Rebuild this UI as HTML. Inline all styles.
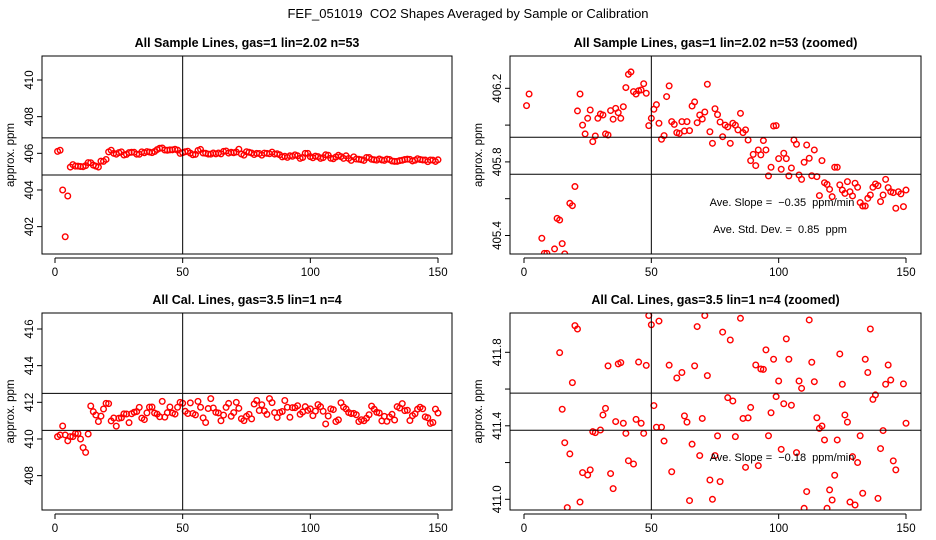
<!DOCTYPE html>
<html><head><meta charset="utf-8"><style>
html,body{margin:0;padding:0;background:#fff;width:936px;height:540px;overflow:hidden;}
svg{display:block;font-family:"Liberation Sans",sans-serif;overflow:hidden;}
text{white-space:pre;}
</style></head><body>
<svg id="c" width="936" height="540" viewBox="0 0 936 540">
<text x="468" y="18" text-anchor="middle" font-size="13">FEF_051019  CO2 Shapes Averaged by Sample or Calibration</text>
</svg>
<script>
const sampleValues = [
406.106,406.169,404.0,401.45,403.67,405.25,405.385,405.303,405.303,405.28,
405.27,405.327,405.493,405.484,405.356,405.3,405.25,405.575,405.562,405.666,
406.077,406.169,406.0,405.952,406.037,406.082,405.910,405.941,406.037,406.06,
406.055,405.952,405.946,406.079,406.032,406.091,406.068,406.037,406.1,406.204,
406.276,406.289,406.182,406.169,406.187,406.191,406.225,406.173,405.997,406.037,
406.086,406.111,406.01,405.923,405.943,406.155,406.213,406.019,406.004,405.959,
405.955,406.019,405.968,406.019,405.97,406.104,406.126,406.013,406.055,406.033,
406.071,406.222,405.964,405.901,406.089,406.057,406.017,405.937,406.0,405.99,
405.901,406.01,406.0,405.974,406.064,405.959,405.974,405.919,405.807,405.841,
405.78,405.865,405.838,405.916,405.865,405.724,405.771,405.995,405.997,405.818,
405.76,405.847,405.818,405.724,405.767,405.919,405.896,405.729,405.705,405.798,
405.892,405.82,405.725,405.865,405.72,405.617,405.807,405.687,405.678,405.651,
405.611,405.771,405.771,405.675,405.647,405.629,405.693,405.638,405.615,405.684,
405.662,405.579,405.56,405.56,405.602,405.62,405.662,405.68,405.671,405.584,
405.62,405.705,405.66,405.638,405.633,405.548,405.638,405.626,405.557,405.647];
const calValues = [
410.13,410.22,410.71,410.22,409.9,410.13,410.13,410.3,410.3,410.0,
409.53,409.27,410.27,411.798,411.49,411.308,410.955,411.247,411.635,411.945,
411.927,410.985,411.145,410.7,411.132,411.16,411.368,411.363,410.89,411.377,
411.459,411.495,411.726,411.14,411.058,411.423,411.737,411.744,411.414,411.359,
411.21,412.05,411.192,411.435,411.747,411.414,411.359,411.729,412.0,411.95,
411.51,411.392,411.97,411.392,411.317,412.05,411.73,411.15,410.9,411.66,
412.2,411.69,411.454,411.42,410.993,411.3,411.726,411.94,411.238,411.44,
412.0,411.673,411.105,411.0,411.238,411.345,411.096,411.91,412.1,411.553,
411.867,411.535,411.341,412.2,411.985,411.44,411.174,411.443,411.5,412.1,
411.731,411.183,411.709,411.707,411.813,411.346,411.471,411.762,411.559,411.644,
411.272,411.52,411.873,411.762,411.512,410.82,411.254,411.644,411.604,410.951,
411.042,411.976,411.746,411.64,411.444,411.386,411.399,411.323,410.951,411.051,
410.996,411.131,411.323,411.791,411.626,411.459,411.42,410.985,411.232,410.969,
411.2,411.346,411.033,411.762,411.69,411.927,411.544,411.568,411.005,411.276,
411.374,411.626,411.731,411.649,411.209,411.16,410.85,410.9,411.628,411.414];
const xTicks = [0,50,100,150];
const sampleRefLines = [406.84,404.82];
const sampleZoomRefLines = [405.934,405.733];
const calRefLines = [412.49,410.47];
const calZoomRefLines = [411.578,411.376];
const sampleTicks = [402,404,406,408,410];
const sampleZoomTicks = [405.4,405.6,405.8,406.0,406.2];
const sampleZoomLabels = ["405.4","","405.8","","406.2"];
const calTicks = [408,410,412,414,416];
const calZoomTicks = [411.0,411.2,411.4,411.6,411.8];
const calZoomLabels = ["411.0","","411.4","","411.8"];

const svg = document.getElementById('c');
const NS = 'http://www.w3.org/2000/svg';
function mk(tag, attrs, parent){
  const e = document.createElementNS(NS, tag);
  for (const k in attrs) e.setAttribute(k, attrs[k]);
  (parent||svg).appendChild(e);
  return e;
}
const panels = [
 {id:'sample', title:'All Sample Lines, gas=1 lin=2.02 n=53', L:42,R:452,T:56,B:254, x0:55,x1:438, yRef:410,yRefPx:80,ppp:18.33, data:sampleValues, lines:sampleRefLines, ticks:sampleTicks, labels:sampleTicks.map(String)},
 {id:'sample-zoom', title:'All Sample Lines, gas=1 lin=2.02 n=53 (zoomed)', L:510,R:921,T:56,B:254, x0:524,x1:906, yRef:406.2,yRefPx:88.3,ppp:184, data:sampleValues, lines:sampleZoomRefLines, ticks:sampleZoomTicks, labels:sampleZoomLabels,
  notes:[['Ave. Slope =  \u22120.35  ppm/min',782,206],['Ave. Std. Dev. =  0.85  ppm',780,233]]},
 {id:'cal', title:'All Cal. Lines, gas=3.5 lin=1 n=4', L:42,R:452,T:313,B:510, x0:55,x1:438, yRef:416,yRefPx:329,ppp:18.33, data:calValues, lines:calRefLines, ticks:calTicks, labels:calTicks.map(String)},
 {id:'cal-zoom', title:'All Cal. Lines, gas=3.5 lin=1 n=4 (zoomed)', L:510,R:921,T:313,B:510, x0:524,x1:906, yRef:411.8,yRefPx:352.3,ppp:183.75, data:calValues, lines:calZoomRefLines, ticks:calZoomTicks, labels:calZoomLabels,
  notes:[['Ave. Slope =  \u22120.18  ppm/min',782,461]]}
];
panels.forEach((p,pi)=>{
  const g = mk('g',{});
  
  
  const xs = v => p.x0 + (v)*(p.x1-p.x0)/150;
  const ys = v => p.yRefPx - (v-p.yRef)*p.ppp;
  const cid = 'clip'+pi;
  const cp = mk('clipPath',{id:cid},g);
  mk('rect',{x:p.L,y:p.T,width:p.R-p.L,height:p.B-p.T},cp);
  const t = mk('text',{x:(p.L+p.R)/2,y:p.T-9,'text-anchor':'middle','font-size':12.5,'font-weight':'bold'},g);
  t.textContent = p.title;
  
  
  const pts = mk('g',{'clip-path':'url(#'+cid+')'},g);
  
  
  p.data.forEach((v,i)=>{
    const cy = ys(v);
    if (cy < p.T-3 || cy > p.B+3) return;
    const c = mk('circle',{cx:xs(i+1),cy:cy,r:2.8,fill:'none',stroke:'#ff0000','stroke-width':1.4},pts);
    
    
  });
  p.lines.forEach(v=>{
    const l = mk('line',{x1:p.L,x2:p.R,y1:ys(v),y2:ys(v),stroke:'#000','stroke-width':1},g);
    
    
  });
  const vl = mk('line',{x1:xs(50),x2:xs(50),y1:p.T,y2:p.B,stroke:'#000','stroke-width':1},g);
  
  
  const box = mk('rect',{x:p.L,y:p.T,width:p.R-p.L,height:p.B-p.T,fill:'none',stroke:'#000','stroke-width':1},g);
  
  
  const xa = mk('g',{},g);
  
  
  mk('line',{x1:xs(xTicks[0]),x2:xs(xTicks[xTicks.length-1]),y1:p.B+4,y2:p.B+4,stroke:'#000'},xa);
  xTicks.forEach(v=>{
    mk('line',{x1:xs(v),x2:xs(v),y1:p.B+4,y2:p.B+9,stroke:'#000'},xa);
    const tl = mk('text',{x:xs(v),y:p.B+22,'text-anchor':'middle','font-size':11.5},xa);
    tl.textContent = v;
    
    
  });
  const ya = mk('g',{},g);
  
  
  p.ticks.forEach((v,i)=>{
    mk('line',{x1:p.L-5,x2:p.L,y1:ys(v),y2:ys(v),stroke:'#000'},ya);
    if(p.labels[i]){
      const tl = mk('text',{x:0,y:0,'text-anchor':'middle','font-size':11.5,transform:'translate('+(p.L-9)+','+ys(v)+') rotate(-90)'},ya);
      tl.textContent = p.labels[i];
      
      
    }
  });
  const yt = mk('text',{x:0,y:0,'text-anchor':'middle','font-size':11.5,transform:'translate('+(p.L-28)+','+((p.T+p.B)/2)+') rotate(-90)'},g);
  yt.textContent = 'approx. ppm';
  
  
  (p.notes||[]).forEach(n=>{
    const a = mk('text',{x:n[1],y:n[2],'text-anchor':'middle','font-size':11},g);
    a.textContent = n[0];
    
    
  });
});
</script>
</body></html>
